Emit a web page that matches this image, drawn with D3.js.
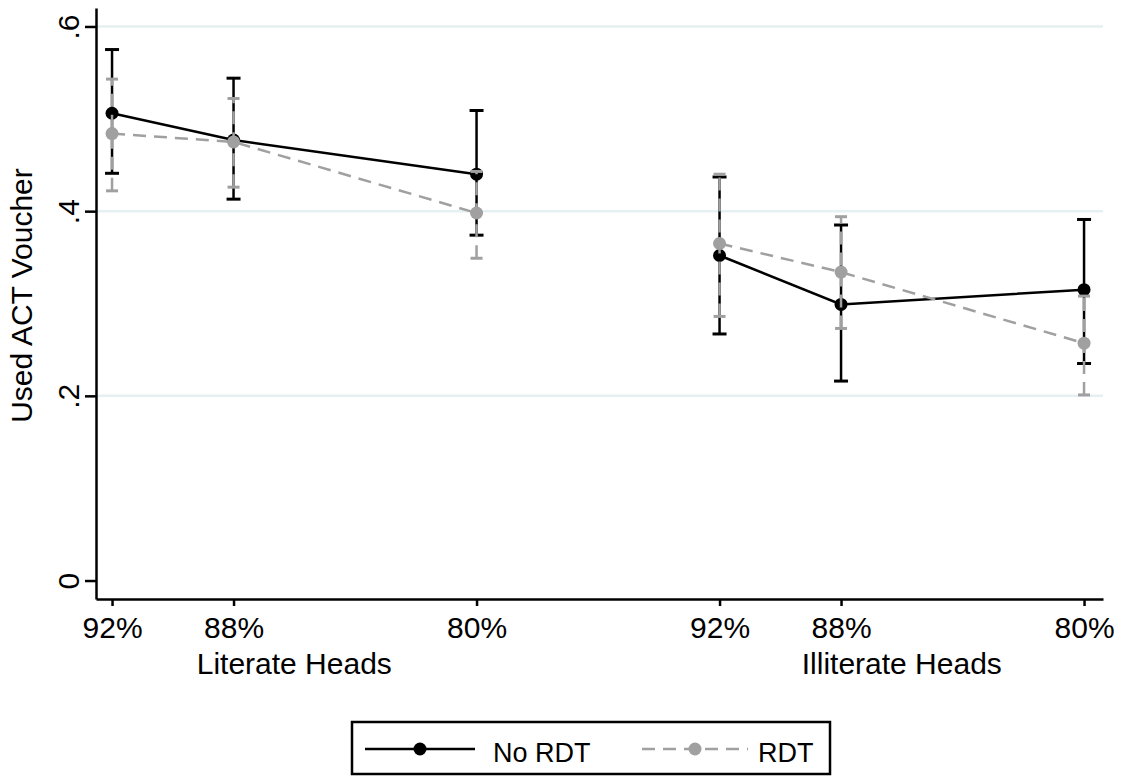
<!DOCTYPE html>
<html>
<head>
<meta charset="utf-8">
<script src="https://cdn.jsdelivr.net/npm/d3@7"></script>
<style>
  html, body { margin: 0; padding: 0; background: #fff; }
  svg text { font-family: "Liberation Sans", Arial, Helvetica, sans-serif; fill: #000; }
</style>
</head>
<body>
<svg id="chart" width="1123" height="778"></svg>
<script>
// Positions along the x axis (two groups of three subsidy levels)
const xPositions = [1, 2, 4, 6, 7, 9];
const tickLabels = ["92%", "88%", "80%", "92%", "88%", "80%"];
const groupNames = ["Literate Heads", "Illiterate Heads"];
const groupIndex = [0, 0, 0, 1, 1, 1];

// Share that used the ACT voucher, with 95% intervals
const noRdtMean = [0.506, 0.477, 0.440, 0.352, 0.299, 0.315];
const noRdtLow  = [0.441, 0.413, 0.374, 0.267, 0.216, 0.235];
const noRdtHigh = [0.575, 0.544, 0.509, 0.437, 0.385, 0.391];

const rdtMean = [0.484, 0.475, 0.398, 0.365, 0.334, 0.257];
const rdtLow  = [0.422, 0.426, 0.349, 0.286, 0.273, 0.201];
const rdtHigh = [0.543, 0.522, 0.443, 0.440, 0.394, 0.308];

const yTicks = [0, 0.2, 0.4, 0.6];
const yTickLabels = ["0", ".2", ".4", ".6"];
const seriesNames = ["No RDT", "RDT"];

const svg = d3.select("#chart");
const plotLeft = 96, plotRight = 1103, plotTop = 8, plotBottom = 599;

const x = d3.scaleLinear().domain([0.868, 9.156]).range([plotLeft, plotRight]);
const y = d3.scaleLinear().domain([-0.02, 0.62]).range([plotBottom, plotTop]);

const FS = 30;        // axis labels and titles
const FS_LEGEND = 27;
const black = "#000000";
const gray = "#a0a0a0";
const dash = "13,8";

// grid lines
svg.append("g").selectAll("line")
  .data(yTicks.filter(d => d > 0))
  .join("line")
  .attr("x1", plotLeft).attr("x2", plotRight)
  .attr("y1", d => y(d)).attr("y2", d => y(d))
  .attr("stroke", "#e6eff2").attr("stroke-width", 2.5);

// y axis
const yAxis = svg.append("g")
  .attr("transform", `translate(${plotLeft},0)`)
  .call(d3.axisLeft(y).tickValues(yTicks).tickSize(11).tickSizeOuter(0)
    .tickFormat((d, i) => yTickLabels[i]));
yAxis.select(".domain").attr("stroke", black).attr("stroke-width", 2.5);
yAxis.selectAll(".tick line").attr("stroke", black).attr("stroke-width", 2.5);
yAxis.selectAll(".tick text")
  .attr("x", null).attr("dy", null)
  .attr("transform", "translate(-17,0) rotate(-90)")
  .attr("text-anchor", "middle")
  .style("font-size", FS + "px");

// x axis
const xAxis = svg.append("g")
  .attr("transform", `translate(0,${plotBottom})`)
  .call(d3.axisBottom(x).tickValues(xPositions).tickSize(7).tickSizeOuter(0).tickPadding(11)
    .tickFormat((d, i) => tickLabels[i]));
xAxis.select(".domain").attr("stroke", black).attr("stroke-width", 2.5);
xAxis.selectAll(".tick line").attr("stroke", black).attr("stroke-width", 2.5);
xAxis.selectAll(".tick text").style("font-size", FS + "px");

// group labels under the tick labels
groupNames.forEach((name, g) => {
  const xs = xPositions.filter((_, i) => groupIndex[i] === g);
  svg.append("text")
    .attr("x", x((d3.min(xs) + d3.max(xs)) / 2))
    .attr("y", 674)
    .attr("text-anchor", "middle")
    .style("font-size", FS + "px")
    .text(name);
});

// y axis title
svg.append("text")
  .attr("transform", `translate(32,${(plotTop + plotBottom) / 2 - 8}) rotate(-90)`)
  .attr("text-anchor", "middle")
  .style("font-size", FS + "px")
  .text("Used ACT Voucher");

function drawSeries(mean, low, high, color, dashed, capHalf) {
  const g = svg.append("g");
  const idx = d3.range(mean.length);
  // error bars
  g.selectAll("line.bar").data(idx).join("line").attr("class", "bar")
    .attr("x1", i => x(xPositions[i])).attr("x2", i => x(xPositions[i]))
    .attr("y1", i => y(low[i])).attr("y2", i => y(high[i]))
    .attr("stroke", color).attr("stroke-width", 2.5)
    .attr("stroke-dasharray", dashed ? dash : null);
  [low, high].forEach(arr => {
    g.selectAll(null).data(idx).join("line")
      .attr("x1", i => x(xPositions[i]) - capHalf).attr("x2", i => x(xPositions[i]) + capHalf)
      .attr("y1", i => y(arr[i])).attr("y2", i => y(arr[i]))
      .attr("stroke", color).attr("stroke-width", 3);
  });
  // connecting lines, one per group
  const line = d3.line().x(i => x(xPositions[i])).y(i => y(mean[i]));
  groupNames.forEach((_, gi) => {
    g.append("path")
      .datum(idx.filter(i => groupIndex[i] === gi))
      .attr("d", line)
      .attr("fill", "none")
      .attr("stroke", color).attr("stroke-width", 2.5)
      .attr("stroke-dasharray", dashed ? dash : null);
  });
  // markers
  g.selectAll("circle").data(idx).join("circle")
    .attr("cx", i => x(xPositions[i])).attr("cy", i => y(mean[i]))
    .attr("r", 6.5).attr("fill", color);
}

drawSeries(noRdtMean, noRdtLow, noRdtHigh, black, false, 7);
drawSeries(rdtMean, rdtLow, rdtHigh, gray, true, 6);

// legend
const lg = svg.append("g");
lg.append("rect")
  .attr("x", 352).attr("y", 722).attr("width", 478).attr("height", 52)
  .attr("fill", "#fff").attr("stroke", black).attr("stroke-width", 2.5);
const legendItems = [
  { name: seriesNames[0], color: black, dashed: false, x0: 365, x1: 475, tx: 493 },
  { name: seriesNames[1], color: gray, dashed: true, x0: 642, x1: 748, tx: 758 }
];
legendItems.forEach(it => {
  lg.append("line")
    .attr("x1", it.x0).attr("x2", it.x1).attr("y1", 749).attr("y2", 749)
    .attr("stroke", it.color).attr("stroke-width", 2.5)
    .attr("stroke-dasharray", it.dashed ? dash : null);
  lg.append("circle")
    .attr("cx", (it.x0 + it.x1) / 2).attr("cy", 749).attr("r", 6.5).attr("fill", it.color);
  lg.append("text")
    .attr("x", it.tx).attr("y", 762)
    .style("font-size", FS_LEGEND + "px")
    .text(it.name);
});
</script>
</body>
</html>
